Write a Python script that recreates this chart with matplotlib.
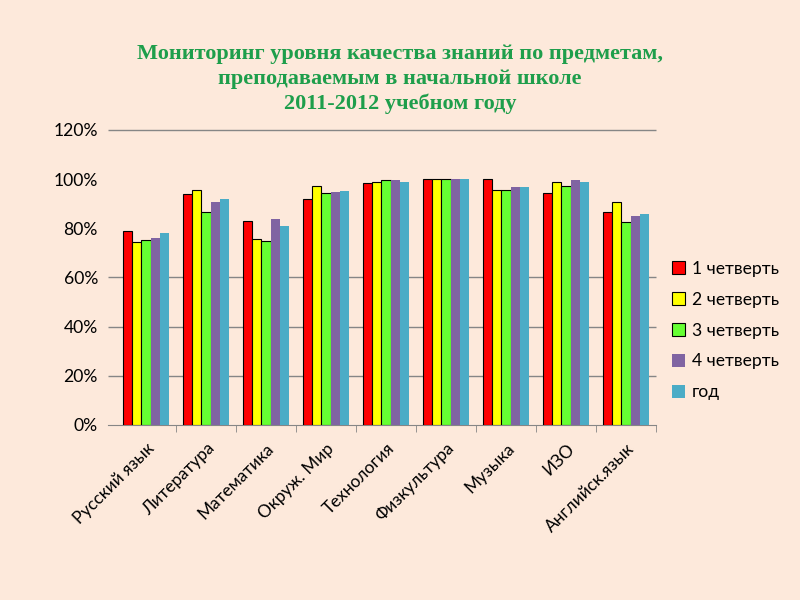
import numpy as np
import matplotlib.pyplot as plt
from matplotlib.ticker import PercentFormatter

subjects = ["Русский язык", "Литература", "Математика", "Окруж. Мир", "Технология",
            "Физкультура", "Музыка", "ИЗО", "Английск.язык"]
series_names = ["1 четверть", "2 четверть", "3 четверть", "4 четверть", "год"]

q1 = [79, 94, 83, 92, 98.5, 100, 100, 94.3, 86.5]
q2 = [74.3, 95.5, 75.7, 97.4, 98.7, 100, 95.6, 98.7, 90.7]
q3 = [75.3, 86.5, 74.9, 94.5, 99.8, 100, 95.6, 97.4, 82.5]
q4 = [76, 90.7, 83.8, 94.8, 99.8, 100, 96.8, 99.8, 85]
year = [78.2, 92, 81, 95, 98.9, 100, 97, 98.9, 85.8]

# gridlines visible in the original (80% and 100% are missing there)
grid_levels = [0.2, 0.4, 0.6, 1.2]

colors = ["#FF0000", "#FFFF00", "#66FF33", "#8064A2", "#4BACC6"]
edges = ["#000000", "#000000", "#000000", "none", "none"]
bg = "#FDE9DB"

plt.rcParams['font.family'] = ['Lato', 'DejaVu Sans']

fig = plt.figure(figsize=(8, 6), dpi=100, facecolor=bg)
ax = fig.add_axes([0.145, 0.2917, 0.675, 0.4917])
ax.set_facecolor(bg)

x = np.arange(len(subjects))
w = 0.154
for i, (vals, name) in enumerate(zip([q1, q2, q3, q4, year], series_names)):
    ax.bar(x + (i - 2) * w, np.array(vals) / 100, w, color=colors[i],
           edgecolor=edges[i], linewidth=0.8, label=name, zorder=3)

left_end = -0.5 - 0.13  # lines stick out a little to the left of the plot area
ax.hlines(grid_levels, left_end, len(subjects) - 0.5, color='#868686',
          linewidth=1, zorder=0, clip_on=False)

ax.set_xlim(-0.5, len(subjects) - 0.5)
ax.set_ylim(0, 1.2)
ax.set_yticks(np.arange(0, 1.21, 0.2))
ax.yaxis.set_major_formatter(PercentFormatter(1.0, decimals=0))

for s in ['top', 'right', 'left']:
    ax.spines[s].set_visible(False)
ax.spines['bottom'].set_color('#868686')
ax.spines['bottom'].set_bounds(left_end, len(subjects) - 0.5)

ax.set_xticks(x)
ax.set_xticklabels(subjects, rotation=45, ha='right', rotation_mode='anchor', fontsize=12.4)
ax.set_xticks(np.arange(0.5, len(subjects), 1), minor=True)
ax.tick_params(axis='x', which='major', length=0, pad=11)
ax.tick_params(axis='x', which='minor', length=5, color='#868686')
ax.tick_params(axis='y', length=0, labelsize=12.6, pad=13)

leg = ax.legend(loc='center left', bbox_to_anchor=(1.0, 0.32), frameon=False,
                fontsize=12.6, handlelength=0.75, handleheight=0.75, handletextpad=0.4,
                labelspacing=0.85)

fig.text(0.5, 0.868, "Мониторинг уровня качества знаний по предметам,\n"
         "преподаваемым в начальной школе\n2011-2012 учебном году",
         ha='center', va='center', fontsize=16, fontweight='bold',
         family='Liberation Serif', color='#1E9E4B', linespacing=1.3)

plt.savefig("out.png", dpi=100, facecolor=bg)
